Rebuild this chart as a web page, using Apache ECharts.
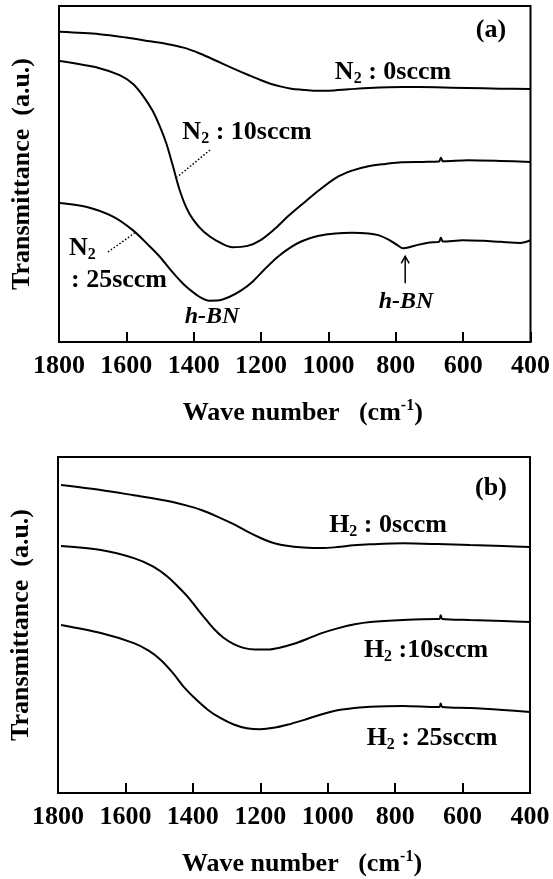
<!DOCTYPE html>
<html>
<head>
<meta charset="utf-8">
<script src="https://cdn.jsdelivr.net/npm/echarts@6/dist/echarts.min.js"></script>
<style>
  html, body { margin: 0; padding: 0; background: #fff; }
  #chart { width: 553px; height: 879px; }
</style>
</head>
<body>
<div id="chart"></div>
<script>
// FTIR transmittance spectra: (a) N2 flow series, (b) H2 flow series.
// Each series is a list of [wavenumber (cm-1), transmittance (a.u.)].

const xTickValues = [1800, 1600, 1400, 1200, 1000, 800, 600, 400];

// Panel (a): N2 flow
const n2_0sccm = [
  [1797, 92.3], [1680, 91.6], [1600, 90.6], [1530, 89.5], [1480, 88.7], [1430, 87.6],
  [1380, 85.8], [1333, 83.7], [1280, 81.3], [1236, 79.4], [1200, 77.9], [1170, 76.8],
  [1140, 76.0], [1110, 75.4], [1080, 75.1], [1040, 74.8], [1000, 74.8], [940, 75.2],
  [880, 75.6], [780, 75.9], [680, 75.8], [590, 75.6], [490, 75.4], [400, 75.3]
];
const n2_10sccm = [
  [1797, 83.6], [1680, 81.5], [1620, 79.4], [1580, 76.8], [1550, 73.2], [1522, 68.8],
  [1500, 64.0], [1481, 59.0], [1463, 52.8], [1443, 45.6], [1422, 40.0], [1400, 36.2],
  [1370, 32.8], [1333, 30.2], [1286, 28.2], [1240, 28.6], [1200, 30.4], [1160, 33.6],
  [1120, 37.4], [1079, 40.9], [1030, 45.0], [979, 48.8], [930, 51.0], [881, 52.3],
  [830, 53.0], [784, 53.5], [720, 53.6], [672, 53.7], [666, 54.8], [660, 53.8],
  [586, 54.1], [489, 53.9], [400, 53.6]
];
const n2_25sccm = [
  [1797, 41.4], [1717, 40.2], [1641, 37.4], [1581, 33.3], [1531, 28.5], [1500, 25.3],
  [1463, 20.8], [1430, 17.2], [1404, 15.0], [1380, 13.3], [1354, 12.3], [1325, 12.4],
  [1295, 13.4], [1260, 15.3], [1227, 17.8], [1190, 21.6], [1150, 25.4], [1110, 28.3],
  [1079, 30.0], [1029, 31.6], [979, 32.3], [930, 32.5], [881, 32.3], [852, 31.8],
  [820, 30.4], [795, 28.8], [778, 27.9], [760, 28.2], [735, 28.9], [700, 29.6],
  [672, 29.8], [666, 31.0], [660, 29.9], [600, 30.3], [540, 30.1], [489, 29.8],
  [430, 29.5], [400, 30.3]
];

// Panel (b): H2 flow
const h2_0sccm = [
  [1791, 91.7], [1673, 90.2], [1575, 88.6], [1474, 86.9], [1420, 85.6], [1377, 84.3],
  [1326, 82.2], [1279, 80.0], [1238, 77.8], [1199, 75.9], [1170, 74.7], [1140, 73.9],
  [1100, 73.3], [1060, 73.0], [1022, 72.9], [971, 73.2], [924, 73.7], [874, 74.0],
  [776, 74.3], [675, 74.1], [578, 73.8], [480, 73.5], [400, 73.2]
];
const h2_10sccm = [
  [1791, 73.5], [1673, 72.3], [1575, 69.9], [1520, 67.5], [1474, 64.3], [1440, 61.0],
  [1410, 57.8], [1385, 54.6], [1360, 51.5], [1335, 48.6], [1310, 46.3], [1280, 44.4],
  [1250, 43.2], [1215, 42.7], [1178, 42.7], [1140, 43.3], [1100, 44.4], [1060, 45.9],
  [1020, 47.5], [971, 49.0], [920, 50.2], [874, 50.9], [776, 51.5], [675, 51.8],
  [668, 51.8], [665, 52.9], [660, 51.8], [578, 51.5], [480, 51.2], [400, 50.9]
];
const h2_25sccm = [
  [1791, 50.0], [1673, 47.6], [1575, 44.6], [1530, 42.3], [1495, 39.6], [1460, 35.8],
  [1427, 31.6], [1390, 27.8], [1356, 24.8], [1320, 22.4], [1279, 20.4], [1240, 19.3],
  [1200, 19.0], [1160, 19.4], [1120, 20.3], [1072, 21.7], [1022, 23.3], [971, 24.6],
  [920, 25.3], [874, 25.7], [776, 25.9], [675, 25.6], [668, 25.6], [665, 26.6],
  [660, 25.6], [578, 25.3], [480, 24.7], [400, 24.1]
];

const FONT = '"Liberation Serif", "Times New Roman", serif';

const chart = echarts.init(document.getElementById('chart'), null, { renderer: 'canvas' });

const richStyles = {
  t: { fontFamily: FONT, fontWeight: 'bold', fontSize: 26, color: '#000', lineHeight: 30 },
  ti: { fontFamily: FONT, fontWeight: 'bold', fontStyle: 'italic', fontSize: 24, color: '#000', lineHeight: 28 },
  sub: { fontFamily: FONT, fontWeight: 'bold', fontSize: 16, color: '#000', lineHeight: 15, verticalAlign: 'bottom' },
  sup: { fontFamily: FONT, fontWeight: 'bold', fontSize: 16, color: '#000', lineHeight: 15, verticalAlign: 'top' }
};

function xAxisFor(gridIndex) {
  return {
    type: 'value',
    gridIndex: gridIndex,
    inverse: true,
    min: 400,
    max: 1800,
    interval: 200,
    axisLine: { show: true, lineStyle: { color: '#000', width: 2 } },
    axisTick: { show: true, inside: true, length: 10, lineStyle: { color: '#000', width: 2 } },
    splitLine: { show: false },
    axisLabel: {
      margin: 11,
      fontFamily: FONT,
      fontWeight: 'bold',
      fontSize: 26,
      color: '#000',
      showMinLabel: true,
      showMaxLabel: true,
      formatter: (v) => String(v)
    },
    name: '{t|Wave number   (cm}{sup|-1}{t|)}',
    nameLocation: 'middle',
    nameGap: 56,
    nameTextStyle: { rich: richStyles, padding: [0, 0, 0, 16] }
  };
}

function yAxisFor(gridIndex) {
  return {
    type: 'value',
    gridIndex: gridIndex,
    min: 0,
    max: 100,
    axisLine: { show: true, lineStyle: { color: '#000', width: 2 } },
    axisTick: { show: false },
    axisLabel: { show: false },
    splitLine: { show: false },
    name: 'Transmittance  (a.u.)',
    nameLocation: 'middle',
    nameGap: 24,
    nameTextStyle: { fontFamily: FONT, fontWeight: 'bold', fontSize: 26, color: '#000' }
  };
}

function spectrum(name, data, idx) {
  return {
    name: name,
    type: 'line',
    xAxisIndex: idx,
    yAxisIndex: idx,
    data: data,
    smooth: 0.3,
    showSymbol: false,
    symbol: 'none',
    lineStyle: { color: '#000', width: 2 },
    silent: true,
    animation: false
  };
}

chart.setOption({
  animation: false,
  backgroundColor: '#fff',
  grid: [
    { left: 59, top: 6, width: 474, height: 336, show: true, borderColor: '#000', borderWidth: 2 },
    { left: 57, top: 457, width: 473, height: 336, show: true, borderColor: '#000', borderWidth: 2 }
  ],
  xAxis: [xAxisFor(0), xAxisFor(1)],
  yAxis: [yAxisFor(0), yAxisFor(1)],
  series: [
    spectrum('N2 : 0sccm', n2_0sccm, 0),
    spectrum('N2 : 10sccm', n2_10sccm, 0),
    spectrum('N2 : 25sccm', n2_25sccm, 0),
    spectrum('H2 : 0sccm', h2_0sccm, 1),
    spectrum('H2 : 10sccm', h2_10sccm, 1),
    spectrum('H2 : 25sccm', h2_25sccm, 1)
  ]
});

// Annotations: labels, dotted leaders and the h-BN arrow.
function label(text, x, y, align) {
  return {
    type: 'text',
    x: x, y: y,
    silent: true,
    style: { text: text, rich: richStyles, align: align || 'center', verticalAlign: 'middle' }
  };
}
function dotted(p1, p2) {
  return {
    type: 'line',
    silent: true,
    shape: { x1: p1[0], y1: p1[1], x2: p2[0], y2: p2[1] },
    style: { stroke: '#000', lineWidth: 1.5, lineDash: [1.5, 2] }
  };
}

const pA = (pt) => chart.convertToPixel({ gridIndex: 0 }, pt);

const lead10 = pA([1449, 49.1]);
const lead25 = pA([1576, 32.4]);
const dipBN = pA([778, 27.9]);
const arrowTop = [dipBN[0] + 2, dipBN[1] + 8];
const arrowBottom = [dipBN[0] + 2, dipBN[1] + 35];

chart.setOption({
  graphic: [
    label('{t|(a)}', 491, 30),
    label('{t|N}{sub|2}{t| : 0sccm}', 393, 72),
    label('{t|N}{sub|2}{t| : 10sccm}', 247, 132),
    dotted([210, 150], lead10),
    label('{t|N}{sub|2}', 69, 248, 'left'),
    label('{t|: 25sccm}', 71, 280, 'left'),
    dotted([108, 252], lead25),
    label('{ti|h-BN}', 212, 317),
    label('{ti|h-BN}', 406, 302),
    {
      type: 'line', silent: true,
      shape: { x1: arrowBottom[0], y1: arrowBottom[1], x2: arrowTop[0], y2: arrowTop[1] },
      style: { stroke: '#000', lineWidth: 1.5 }
    },
    {
      type: 'polyline', silent: true,
      shape: { points: [[arrowTop[0] - 4, arrowTop[1] + 7], arrowTop, [arrowTop[0] + 4, arrowTop[1] + 7]] },
      style: { stroke: '#000', lineWidth: 1.5, fill: null }
    },
    label('{t|(b)}', 491, 488),
    label('{t|H}{sub|2}{t| : 0sccm}', 388, 525),
    label('{t|H}{sub|2}{t| :10sccm}', 426, 650),
    label('{t|H}{sub|2}{t| : 25sccm}', 432, 738)
  ]
});
</script>
</body>
</html>
